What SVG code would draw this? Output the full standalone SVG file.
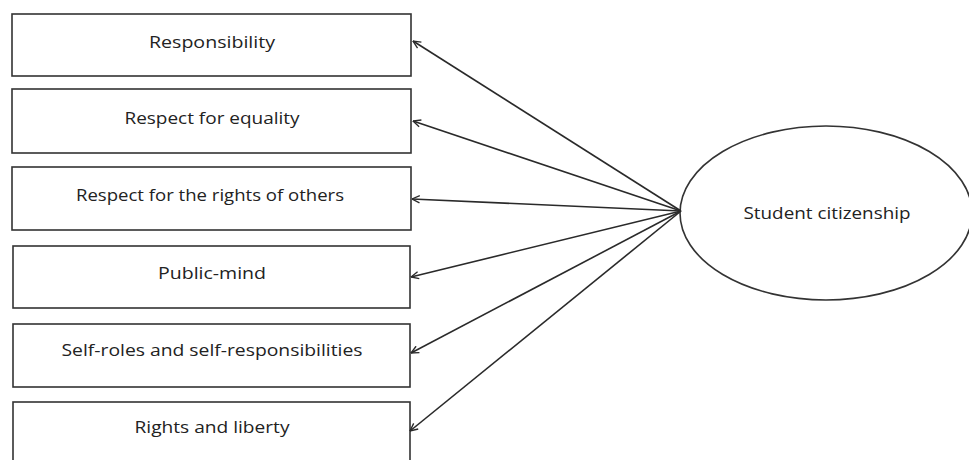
<svg xmlns="http://www.w3.org/2000/svg" width="969" height="460" viewBox="0 0 969 460">
<style>
.box{fill:#fff;stroke:#333;stroke-width:1.6}
.lbl{font-family:"Open Sans","Liberation Sans",sans-serif;font-size:16px;fill:#222;text-anchor:middle}
.con{stroke:#2a2a2a;stroke-width:1.6;fill:none;marker-end:url(#ah)}
</style>
<defs>
<marker id="ah" viewBox="0 0 10 10" refX="9.5" refY="5" markerWidth="9" markerHeight="9" markerUnits="userSpaceOnUse" orient="auto">
<path d="M1,1 L9.5,5 L1,9" fill="none" stroke="#2a2a2a" stroke-width="1.5"/>
</marker>
</defs>
<rect width="969" height="460" fill="#fff"/>
<g id="n1"><rect class="box" x="12" y="14" width="399" height="62"/><text class="lbl" x="212" y="48" textLength="126" lengthAdjust="spacingAndGlyphs">Responsibility</text></g>
<g id="n2"><rect class="box" x="12" y="89" width="399" height="64"/><text class="lbl" x="212" y="124" textLength="175" lengthAdjust="spacingAndGlyphs">Respect for equality</text></g>
<g id="n3"><rect class="box" x="12" y="167" width="399" height="63"/><text class="lbl" x="210" y="201" textLength="268" lengthAdjust="spacingAndGlyphs">Respect for the rights of others</text></g>
<g id="n4"><rect class="box" x="13" y="246" width="397" height="62"/><text class="lbl" x="212" y="279" textLength="108" lengthAdjust="spacingAndGlyphs">Public-mind</text></g>
<g id="n5"><rect class="box" x="13" y="324" width="397" height="63"/><text class="lbl" x="212" y="356" textLength="301" lengthAdjust="spacingAndGlyphs">Self-roles and self-responsibilities</text></g>
<g id="n6"><rect class="box" x="13" y="402" width="397" height="70"/><text class="lbl" x="212" y="433" textLength="155" lengthAdjust="spacingAndGlyphs">Rights and liberty</text></g>
<g id="n7"><ellipse class="box" cx="826" cy="213" rx="146" ry="87"/><text class="lbl" x="827" y="219" textLength="167" lengthAdjust="spacingAndGlyphs">Student citizenship</text></g>
<g id="connectors">
<line class="con" x1="681" y1="211" x2="413" y2="41"/>
<line class="con" x1="681" y1="211" x2="413" y2="121"/>
<line class="con" x1="681" y1="211" x2="412" y2="199"/>
<line class="con" x1="681" y1="211" x2="411" y2="277"/>
<line class="con" x1="681" y1="211" x2="411" y2="353"/>
<line class="con" x1="681" y1="211" x2="410" y2="431"/>
</g>
</svg>
